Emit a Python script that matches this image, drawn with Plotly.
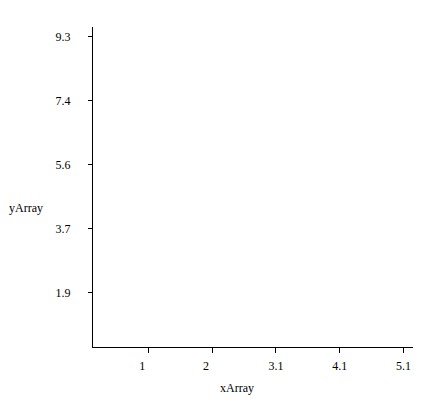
import plotly.graph_objects as go

x_tick_vals = [1.02, 2.04, 3.06, 4.08, 5.1]
x_tick_text = ["1\u2007\u2007", "2\u2007\u2007", "3.1", "4.1", "5.1"]
y_tick_vals = [1.86, 3.72, 5.58, 7.44, 9.3]
y_tick_text = ["1.9", "3.7", "5.6", "7.4", "9.3"]
x_title = "xArray"
y_title = "yArray"

font = dict(family="Liberation Serif, Times New Roman, serif", size=12, color="#000")

# page body has an 8px margin; compensate
OFF = 8
W, H = 426, 403
l, r, t, b = 93 - OFF, 13 + OFF, 27 - OFF, 56 + OFF
pw, ph = W - l - r, H - t - b

def px2paper(px, py):
    return ((px - OFF) - l) / pw, 1 - ((py - OFF) - t) / ph

xt = px2paper(237, 388)
yt = px2paper(26, 208)

fig = go.Figure()
fig.add_trace(go.Scatter(x=[], y=[], mode="markers", showlegend=False))

fig.update_layout(
    width=W, height=H,
    margin=dict(l=l, r=r, t=t, b=b, pad=0),
    paper_bgcolor="white", plot_bgcolor="white",
    font=font,
    showlegend=False,
    xaxis=dict(
        range=[0.136, 5.252], showgrid=False, zeroline=False,
        showline=True, linecolor="black", linewidth=1,
        ticks="outside", ticklen=5, tickcolor="black", tickwidth=1,
        tickvals=x_tick_vals, ticktext=x_tick_text,
        ticklabelstandoff=3,
    ),
    yaxis=dict(
        range=[0.29, 9.59], showgrid=False, zeroline=False,
        showline=True, linecolor="black", linewidth=1,
        ticks="outside", ticklen=4, tickcolor="black", tickwidth=1,
        tickvals=y_tick_vals, ticktext=y_tick_text,
        ticklabelstandoff=15,
    ),
    annotations=[
        dict(text=x_title, x=xt[0], y=xt[1], xref="paper", yref="paper",
             xanchor="center", yanchor="middle", showarrow=False),
        dict(text=y_title, x=yt[0], y=yt[1], xref="paper", yref="paper",
             xanchor="center", yanchor="middle", showarrow=False),
    ],
)

fig.write_html("out.html")
